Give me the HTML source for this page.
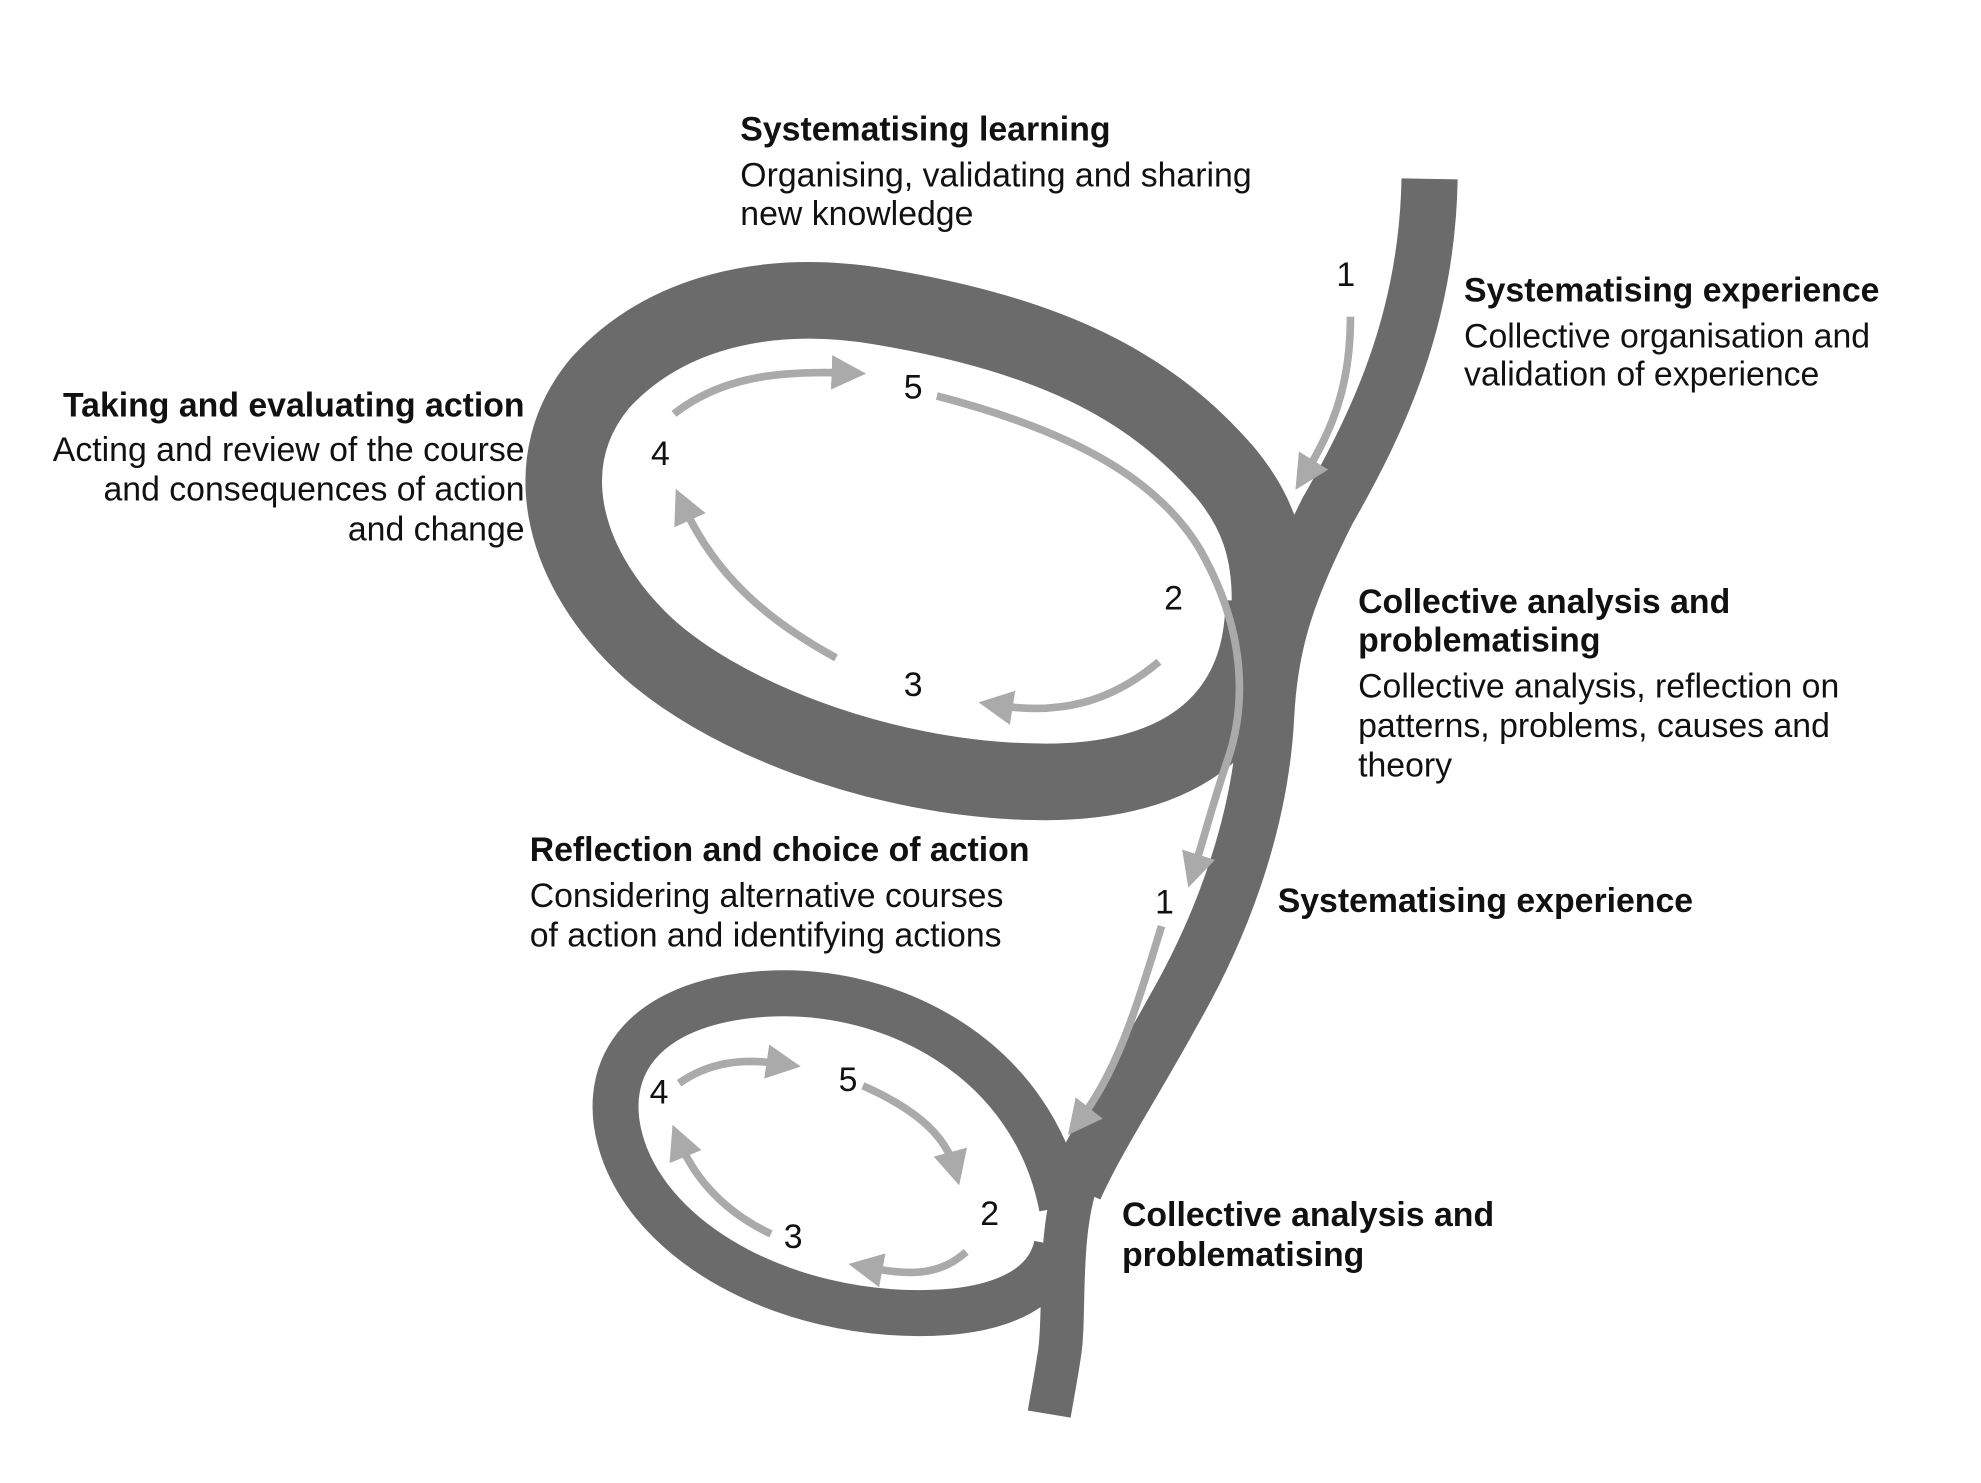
<!DOCTYPE html>
<html><head><meta charset="utf-8"><style>
html,body{margin:0;padding:0;background:#fff;}
svg{display:block;}
text{font-family:"Liberation Sans",Arial,sans-serif;font-size:26.5px;fill:#111;}
.b{font-weight:bold;}
</style></head><body>
<svg width="1981" height="1483" viewBox="0 0 1552 1161" preserveAspectRatio="none" xmlns="http://www.w3.org/2000/svg">
<defs>
<marker id="ah" viewBox="0 0 10 10" refX="5" refY="5" markerWidth="4.5" markerHeight="4.5" orient="auto" markerUnits="strokeWidth">
<path d="M0,0 L10,5 L0,10 Z" fill="#aaaaaa"/></marker>
</defs>
<g fill="none" stroke="#6b6b6b" stroke-linecap="butt">
<path d="M990,470 C990,560 930,615 810,612 C690,610 560,560 500,500 C440,440 420,360 470,300 C520,245 600,225 690,240 C820,262 900,300 960,370 C985,400 995,430 995,470" stroke-width="60"/>
<path d="M1120,140 C1118,250 1080,330 1040,400 C1010,460 995,500 992,560 C988,640 960,720 920,790 C890,845 860,890 842,930" stroke-width="44"/>
<path d="M845,920 C828,965 835,1030 830,1060 C827,1080 824,1095 822,1107" stroke-width="34"/>
<path d="M832,945 C810,830 700,772 600,778 C500,784 465,840 490,905 C520,980 620,1028 720,1028 C790,1028 822,1005 828,975" stroke-width="36"/>
</g>
<g fill="none" stroke="#aaaaaa" stroke-width="6" stroke-linecap="butt">
<path d="M1058,248 C1058,300 1045,335 1022,372" marker-end="url(#ah)"/>
<path d="M734,310 C850,340 910,380 940,430 C980,500 975,560 960,600 C950,630 945,650 935,682" marker-end="url(#ah)"/>
<path d="M908,518 C870,550 830,560 780,552" marker-end="url(#ah)"/>
<path d="M655,515 C600,485 560,450 535,395" marker-end="url(#ah)"/>
<path d="M528,324 C565,295 610,290 665,292" marker-end="url(#ah)"/>
<path d="M910,725 C890,790 875,840 845,878" marker-end="url(#ah)"/>
<path d="M676,850 C710,865 740,885 748,915" marker-end="url(#ah)"/>
<path d="M757,980 C735,1000 710,998 678,992" marker-end="url(#ah)"/>
<path d="M604,966 C570,950 545,925 532,893" marker-end="url(#ah)"/>
<path d="M532,848 C555,832 580,828 614,833" marker-end="url(#ah)"/>
</g>
<g>
<text x="1047" y="224">1</text>
<text x="708" y="312">5</text>
<text x="510" y="364">4</text>
<text x="912" y="477">2</text>
<text x="708" y="545">3</text>
<text x="905" y="715">1</text>
<text x="657" y="854">5</text>
<text x="509" y="864">4</text>
<text x="768" y="959">2</text>
<text x="614" y="977">3</text>

<text class="b" x="580" y="110">Systematising learning</text>
<text x="580" y="146">Organising, validating and sharing</text>
<text x="580" y="176">new knowledge</text>

<text class="b" x="1147" y="236">Systematising experience</text>
<text x="1147" y="272">Collective organisation and</text>
<text x="1147" y="302">validation of experience</text>

<text class="b" x="411" y="326" text-anchor="end">Taking and evaluating action</text>
<text x="411" y="361" text-anchor="end">Acting and review of the course</text>
<text x="411" y="392" text-anchor="end">and consequences of action</text>
<text x="411" y="423" text-anchor="end">and change</text>

<text class="b" x="1064" y="480">Collective analysis and</text>
<text class="b" x="1064" y="510">problematising</text>
<text x="1064" y="546">Collective analysis, reflection on</text>
<text x="1064" y="577">patterns, problems, causes and</text>
<text x="1064" y="608">theory</text>

<text class="b" x="415" y="674">Reflection and choice of action</text>
<text x="415" y="710">Considering alternative courses</text>
<text x="415" y="741">of action and identifying actions</text>

<text class="b" x="1001" y="714">Systematising experience</text>

<text class="b" x="879" y="960">Collective analysis and</text>
<text class="b" x="879" y="991">problematising</text>
</g>
</svg>
</body></html>
